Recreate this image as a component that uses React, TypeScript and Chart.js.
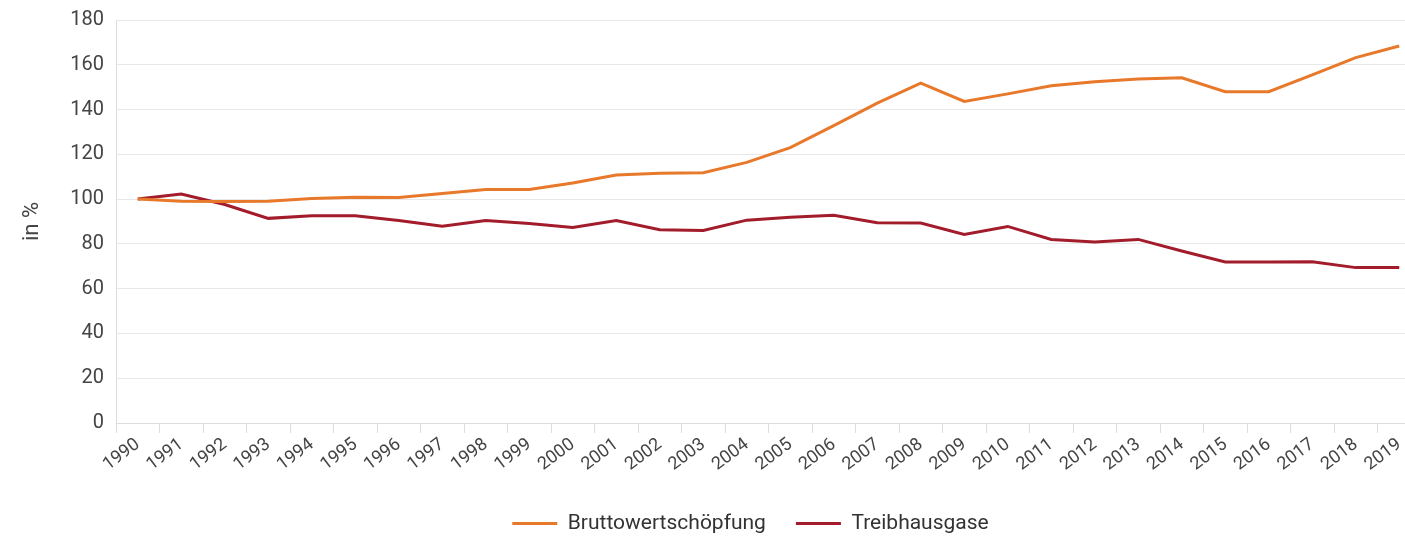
import React, { useEffect, useRef } from 'react';
import { Chart, registerables } from 'chart.js';

Chart.register(...registerables);

const years = [
  '1990', '1991', '1992', '1993', '1994', '1995', '1996', '1997', '1998', '1999',
  '2000', '2001', '2002', '2003', '2004', '2005', '2006', '2007', '2008', '2009',
  '2010', '2011', '2012', '2013', '2014', '2015', '2016', '2017', '2018', '2019',
];

const bruttowertschoepfung = [
  100, 99.1, 98.9, 99.1, 100.3, 100.8, 100.7, 102.5, 104.3, 104.3,
  107.2, 110.8, 111.6, 111.8, 116.4, 123.0, 132.8, 142.9, 151.8, 143.6,
  147.0, 150.6, 152.4, 153.7, 154.2, 148.0, 148.0, 155.5, 163.2, 168.4,
];

const treibhausgase = [
  100, 102.3, 97.6, 91.4, 92.6, 92.6, 90.4, 87.9, 90.4, 89.1,
  87.3, 90.4, 86.3, 86.0, 90.6, 91.9, 92.8, 89.4, 89.3, 84.2,
  87.8, 82.0, 80.8, 82.0, 76.8, 71.9, 71.9, 72.0, 69.4, 69.4,
];

const yMin = 0;
const yMax = 180;
const yStep = 20;

const FONT = 'Roboto, "Noto Sans", sans-serif';

export default function App() {
  const ref = useRef<HTMLCanvasElement | null>(null);

  useEffect(() => {
    if (!ref.current) return;
    const legendShift = {
      id: 'legendShift',
      afterLayout(chart: any) {
        const lg = chart.legend;
        if (lg) {
          lg.left += 40;
          lg.right += 40;
        }
      },
    };
    const chart = new Chart(ref.current, {
      type: 'line',
      data: {
        labels: years,
        datasets: [
          {
            label: 'Bruttowertschöpfung',
            data: bruttowertschoepfung,
            borderColor: '#E8782A',
            backgroundColor: '#E8782A',
            borderWidth: 3,
            pointRadius: 0,
            tension: 0,
          },
          {
            label: 'Treibhausgase',
            data: treibhausgase,
            borderColor: '#A31C2C',
            backgroundColor: '#A31C2C',
            borderWidth: 3,
            pointRadius: 0,
            tension: 0,
          },
        ],
      },
      options: {
        animation: false,
        responsive: false,
        maintainAspectRatio: false,
        layout: { padding: { top: 20, right: 0, bottom: 6, left: 0 } },
        plugins: {
          tooltip: { enabled: false },
          legend: {
            position: 'bottom',
            labels: {
              usePointStyle: true,
              pointStyle: 'line',
              pointStyleWidth: 45,
              boxHeight: 21,
              padding: 30,
              color: '#333',
              font: { family: FONT, size: 21 },
            },
          },
        },
        scales: {
          x: {
            offset: true,
            afterFit: (s: any) => {
              s.height = 60;
            },
            grid: {
              display: true,
              drawOnChartArea: false,
              drawTicks: true,
              tickLength: 10,
              offset: true,
              color: '#dddddd',
            },
            border: { display: true, color: '#dddddd', width: 1 },
            ticks: {
              autoSkip: false,
              maxRotation: 37,
              minRotation: 37,
              color: '#444',
              padding: 1,
              font: { family: FONT, size: 18 },
            },
          },
          y: {
            min: yMin,
            max: yMax,
            afterFit: (s: any) => {
              s.width = 116;
              s.paddingTop = 0;
              s.paddingBottom = 0;
            },
            ticks: {
              stepSize: yStep,
              color: '#444',
              padding: 12,
              font: { family: FONT, size: 20 },
            },
            grid: {
              color: '#e8e8e8',
              drawTicks: false,
            },
            border: { display: true, color: '#dddddd' },
            title: {
              display: true,
              text: 'in %',
              color: '#444',
              padding: { top: 19, bottom: 0 },
              font: { family: FONT, size: 22 },
            },
          },
        },
      },
      plugins: [legendShift],
    } as any);
    return () => chart.destroy();
  }, []);

  return (
    <div style={{ position: 'fixed', left: 0, top: 0, width: 1405, height: 537, overflow: 'hidden', background: '#fff' }}>
      <canvas ref={ref} width={1421} height={550} style={{ display: 'block', width: 1421, height: 550 }} />
    </div>
  );
}
